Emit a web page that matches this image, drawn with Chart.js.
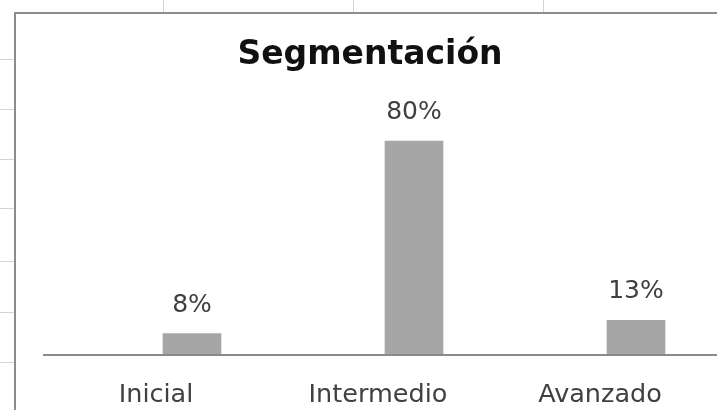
<!DOCTYPE html>
<html lang="es">
<head>
<meta charset="UTF-8">
<title>Segmentación</title>
<script src="https://cdn.jsdelivr.net/npm/chart.js"></script>
<style>
    html, body { margin: 0; padding: 0; background: #fff; overflow: hidden; }
    body { width: 717px; height: 410px; position: relative; }
    /* cuadrícula de la hoja de cálculo detrás del gráfico */
    .hline { position: absolute; left: 0; width: 14px; height: 1px; background: #d4d4d4; }
    .vline { position: absolute; top: 0; width: 1px; height: 12px; background: #d4d4d4; }
    .frame {
        position: absolute; left: 14px; top: 12px;
        width: 760px; height: 420px;
        border-top: 2px solid #8c8c8c; border-left: 2px solid #8c8c8c;
        box-sizing: border-box; overflow: hidden; background: #fff;
    }
    .frame canvas { display: block; }
</style>
</head>
<body>
<div class="hline" style="top:59px"></div>
<div class="hline" style="top:109px"></div>
<div class="hline" style="top:159px"></div>
<div class="hline" style="top:208px"></div>
<div class="hline" style="top:261px"></div>
<div class="hline" style="top:312px"></div>
<div class="hline" style="top:362px"></div>
<div class="vline" style="left:163px"></div>
<div class="vline" style="left:353px"></div>
<div class="vline" style="left:543px"></div>

<div class="frame">
    <canvas id="chart" width="740" height="396"></canvas>
</div>

<script>
    // datos
    const titulo = 'Segmentación';
    const categorias = ['Inicial', 'Intermedio', 'Avanzado'];
    const porcentajes = [8, 80, 13];

    const FONT = '"DejaVu Sans", sans-serif';

    // título, línea del eje y etiquetas de valor
    const extras = {
        id: 'extras',
        afterDatasetsDraw(chart) {
            const ctx = chart.ctx;
            const y0 = chart.scales.y.getPixelForValue(0);
            ctx.save();
            // eje horizontal
            ctx.strokeStyle = '#8a8a8a';
            ctx.lineWidth = 2;
            ctx.beginPath();
            ctx.moveTo(27, y0);
            ctx.lineTo(chart.width, y0);
            ctx.stroke();
            // etiquetas de datos
            ctx.fillStyle = '#404040';
            ctx.font = '25px ' + FONT;
            ctx.textAlign = 'center';
            ctx.textBaseline = 'alphabetic';
            chart.getDatasetMeta(0).data.forEach((bar, i) => {
                ctx.fillText(porcentajes[i] + '%', bar.x, bar.y - 22);
            });
            // título
            ctx.fillStyle = '#111';
            ctx.font = 'bold 33px ' + FONT;
            ctx.fillText(titulo, 354, 50);
            ctx.restore();
        }
    };

    new Chart(document.getElementById('chart'), {
        type: 'bar',
        data: {
            labels: categorias,
            datasets: [{
                data: porcentajes,
                backgroundColor: '#a6a6a6',
                barThickness: 58
            }]
        },
        options: {
            responsive: false,
            animation: false,
            layout: { padding: { top: 73.5, left: 65, right: 9, bottom: 0 } },
            plugins: {
                legend: { display: false },
                tooltip: { enabled: false }
            },
            scales: {
                x: {
                    grid: { display: false, drawTicks: false },
                    border: { display: false },
                    afterFit(scale) { scale.height = 55; },
                    ticks: {
                        color: '#404040',
                        font: { family: FONT, size: 25.5 },
                        padding: 25,
                        labelOffset: -36,
                        autoSkip: false,
                        maxRotation: 0
                    }
                },
                y: {
                    display: false,
                    min: 0,
                    max: 100
                }
            }
        },
        plugins: [extras]
    });
</script>
</body>
</html>
